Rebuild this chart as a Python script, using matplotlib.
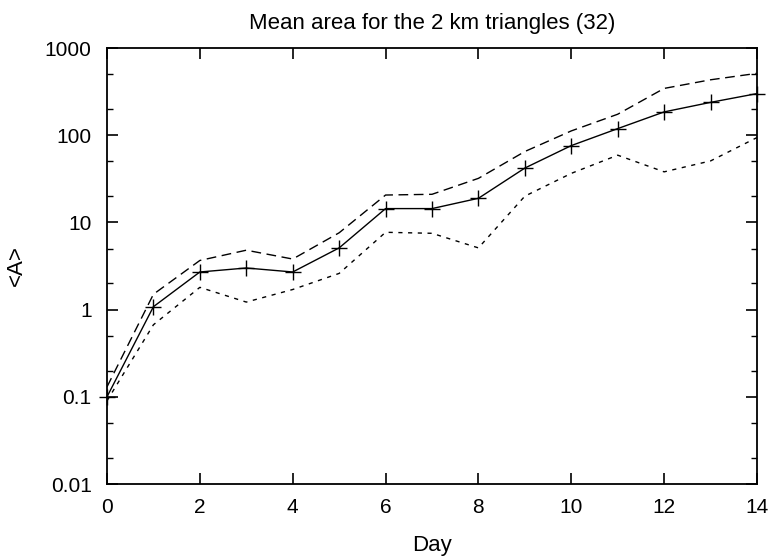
import matplotlib
matplotlib.use("Agg")
import matplotlib.pyplot as plt
from matplotlib.ticker import LogLocator, NullFormatter
import numpy as np

plt.rcParams['font.family'] = ['Liberation Sans', 'DejaVu Sans']

days = np.arange(15)
mean_area = [0.1, 1.08, 2.7, 3.0, 2.7, 5.1, 14.4, 14.4, 18.9, 42, 76, 119, 185, 238, 300]
upper_area = [0.13, 1.5, 3.66, 4.8, 3.8, 7.6, 20.6, 21, 32, 65, 112, 174, 344, 432, 512]
lower_area = [0.09, 0.67, 1.8, 1.22, 1.7, 2.6, 7.7, 7.5, 5.1, 20, 36.5, 59, 38, 50.7, 94]

fig = plt.figure(figsize=(7.72, 5.56), dpi=100)
ax = fig.add_axes([107 / 772, 1 - 484 / 556, 650 / 772, 436 / 556])

ax.plot(days, upper_area, color='black', lw=1.0, dashes=(7, 4))
ax.plot(days, lower_area, color='black', lw=1.0, dashes=(3, 4))
ax.plot(days, mean_area, color='black', lw=1.0, marker='+', ms=11,
        mew=1.0, clip_on=False)

ax.set_yscale('log')
ax.set_xlim(0, 14)
ax.set_ylim(0.01, 1000)
ax.set_xticks(range(0, 15, 2))
ax.set_yticks([0.01, 0.1, 1, 10, 100, 1000])
ax.set_yticklabels(['0.01', '0.1', '1', '10', '100', '1000'])
ax.yaxis.set_minor_locator(LogLocator(base=10, subs=(2.0, 5.0)))
ax.yaxis.set_minor_formatter(NullFormatter())

ax.tick_params(axis='both', which='major', direction='in', length=8, width=1.2,
               top=True, right=True, labelsize=15)
ax.tick_params(axis='x', which='major', pad=10)
ax.tick_params(axis='y', which='major', pad=11)
ax.tick_params(axis='y', which='minor', direction='in', length=4, width=1.0,
               right=True)
for s in ax.spines.values():
    s.set_linewidth(1.3)

ax.set_xlabel('Day', fontsize=16, labelpad=13)
ax.set_ylabel('<A>', fontsize=16, labelpad=13)
ax.set_title('Mean area for the 2 km triangles (32)', fontsize=16, pad=14)

fig.savefig('out.png', dpi=100)
